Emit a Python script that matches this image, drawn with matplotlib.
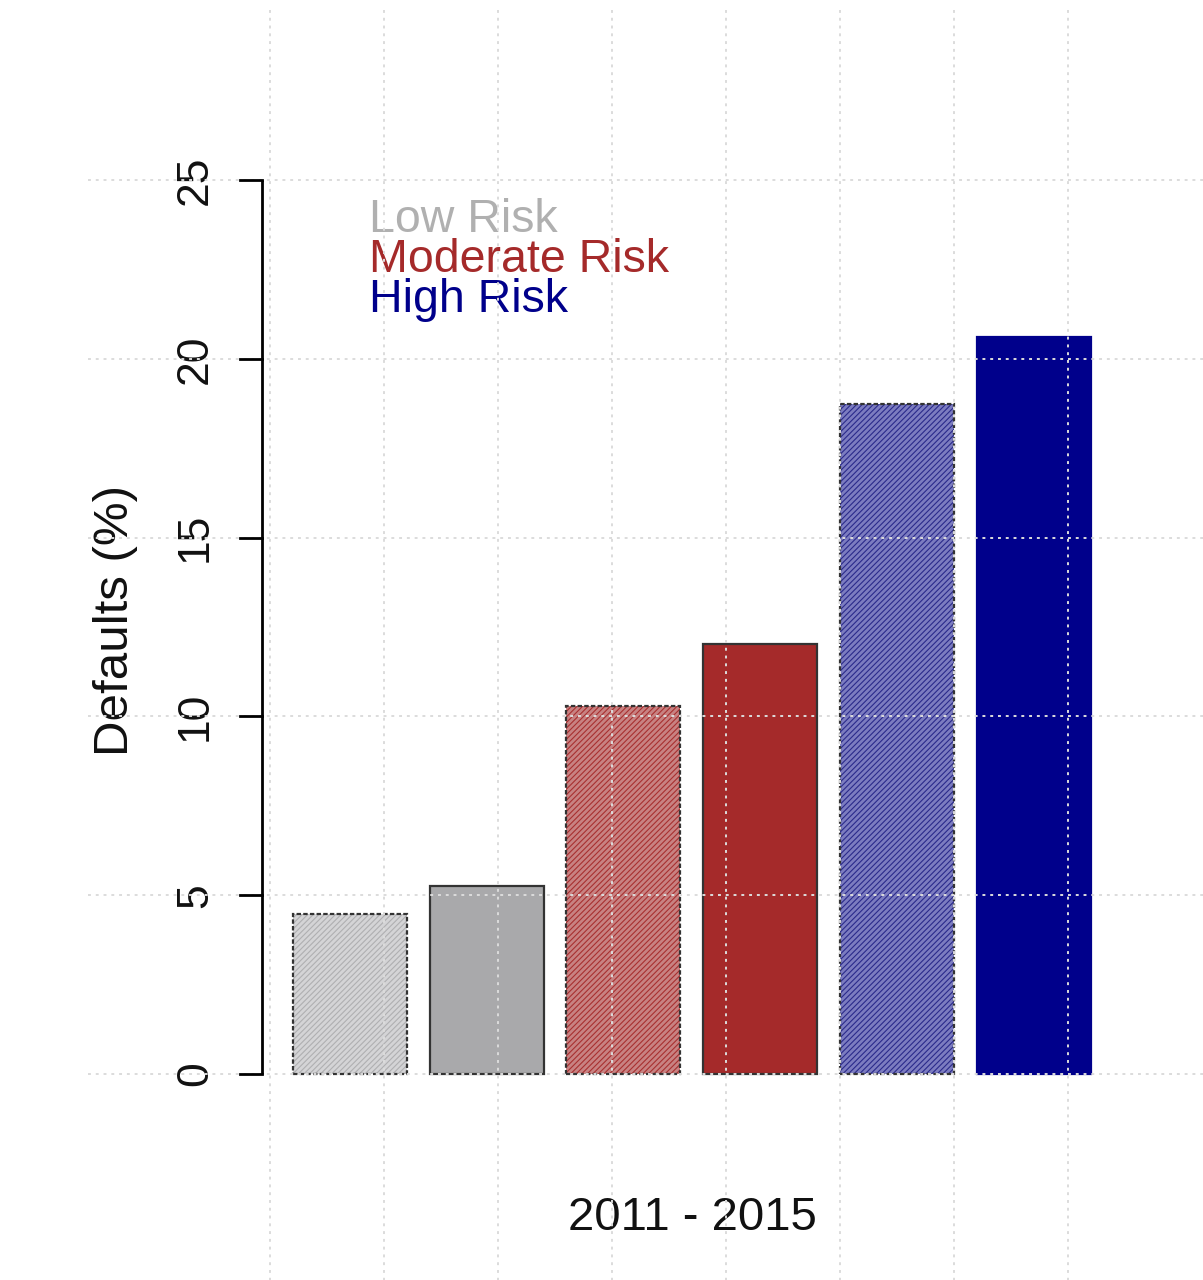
import matplotlib
matplotlib.use("Agg")
import matplotlib.pyplot as plt
import numpy as np

plt.rcParams['font.family'] = ['Liberation Sans', 'DejaVu Sans']

# ---- data ----
categories = ["Low Risk", "Low Risk", "Moderate Risk", "Moderate Risk", "High Risk", "High Risk"]
values = [4.47, 5.26, 10.29, 12.02, 18.74, 20.61]
hatched = [True, False, True, False, True, False]
legend_labels = ["Low Risk", "Moderate Risk", "High Risk"]
legend_colors = ["#B0B0B0", "#A52A2A", "#00008B"]
yticks = [0, 5, 10, 15, 20, 25]
xlabel = "2011 - 2015"
ylabel = "Defaults (%)"

# colours per bar
solid_cols = ["#A9A9AB", "#A9A9AB", "#A52A2A", "#A52A2A", "#00008B", "#00008B"]
light_cols = ["#D4D4D6", "#D4D4D6", "#C88282", "#C88282", "#7C7CC0", "#7C7CC0"]
hatch_cols = ["#AFAFB1", "#AFAFB1", "#A83030", "#A83030", "#2A2A8B", "#2A2A8B"]

W, H = 1203, 1280
fig = plt.figure(figsize=(W / 100, H / 100), dpi=100)
ax = fig.add_axes([0, 0, 1, 1])

# pixel mapping (x: 114 px per unit, x=0 at 270 px; y: 0 at 1074 px, 25 at 180 px)
px_x = 114.0
x0 = 270.0
py = (1074 - 180) / 25.0
ax.set_xlim(-x0 / px_x, (W - x0) / px_x)
ax.set_ylim(-(H - 1074) / py, 1074 / py)
ax.axis('off')

def dx(p):
    return (p - x0) / px_x

def dy(p):
    return (1074 - p) / py

# bars
pos = [0.7 + 1.2 * i for i in range(len(values))]
plt.rcParams['hatch.linewidth'] = 0.8
for i, (x, v) in enumerate(zip(pos, values)):
    if hatched[i]:
        ax.bar(x, v, width=1.0, color=light_cols[i], edgecolor=hatch_cols[i],
               hatch='//////', linewidth=0, zorder=2)
        ax.bar(x, v, width=1.0, color='none', edgecolor='#333333',
               linewidth=1.6, linestyle=(0, (2, 1)), zorder=3)
    else:
        ec = '#333333' if i < 4 else solid_cols[i]
        ax.bar(x, v, width=1.0, color=solid_cols[i], edgecolor=ec,
               linewidth=1.6, zorder=2)

# grid (drawn on top, dotted light gray)
gcol = '#DCDCDC'
for t in yticks:
    ax.plot([dx(88), dx(W)], [t, t], color=gcol, lw=1.4, ls=(0, (1.5, 2.5)), zorder=4)
for k in range(8):
    ax.plot([k, k], [dy(10), dy(H)], color=gcol, lw=1.4, ls=(0, (1.5, 2.5)), zorder=4)

# y axis
axx = dx(262)
ax.plot([axx, axx], [0, 25], color='black', lw=2, zorder=5, solid_capstyle='butt')
for t in yticks:
    ax.plot([dx(240), axx], [t, t], color='black', lw=2, zorder=5)
    ax.text(dx(216), t, str(t), rotation=90, ha='right', va='center',
            fontsize=32, color='#111111')

ax.text(dx(116), dy(620), ylabel, rotation=90, ha='center', va='center',
        fontsize=35.5, color='#111111')
ax.text(dx(692), dy(1218), xlabel, ha='center', va='center',
        fontsize=34, color='#111111')

# legend text
for j, (lab, c) in enumerate(zip(legend_labels, legend_colors)):
    ax.text(dx(369), dy(220 + 40 * j), lab, ha='left', va='center',
            fontsize=33.5, color=c)

fig.savefig("out.png", dpi=100)
